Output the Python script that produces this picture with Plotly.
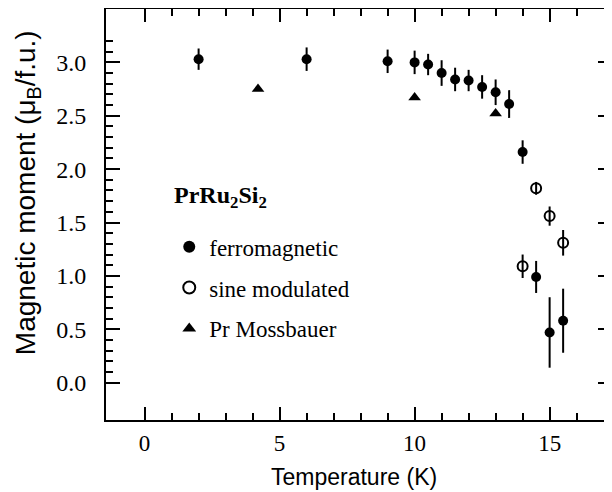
import plotly.graph_objects as go

# ferromagnetic (filled circles)
ferro_T = [2.0, 6.0, 9.0, 10.0, 10.5, 11.0, 11.5, 12.0, 12.5, 13.0, 13.5, 14.0, 14.5, 15.0, 15.5]
ferro_m = [3.03, 3.03, 3.01, 3.00, 2.98, 2.90, 2.84, 2.83, 2.77, 2.72, 2.61, 2.16, 0.99, 0.47, 0.58]
ferro_err = [0.10, 0.11, 0.11, 0.11, 0.10, 0.12, 0.11, 0.10, 0.11, 0.12, 0.13, 0.11, 0.15, 0.33, 0.30]

# sine modulated (open circles)
sine_T = [14.0, 14.5, 15.0, 15.5]
sine_m = [1.09, 1.82, 1.56, 1.31]
sine_err = [0.11, 0.06, 0.09, 0.12]

# Pr Mossbauer (triangles)
moss_T = [4.2, 10.0, 13.0]
moss_m = [2.75, 2.67, 2.52]

x_ticks = [0, 5, 10, 15]
x_minor = [1, 2, 3, 4, 6, 7, 8, 9, 11, 12, 13, 14, 16]
y_ticks = [0.0, 0.5, 1.0, 1.5, 2.0, 2.5, 3.0]
y_ticktext = ["0.0", "0.5", "1.0", "1.5", "2.0", "2.5", "3.0"]
y_minor = [round(0.1 * i, 1) for i in range(0, 33) if i % 5 != 0]

fig = go.Figure()
fig.add_trace(go.Scatter(
    x=ferro_T, y=ferro_m, mode="markers", name="ferromagnetic",
    legendgroup="a",
    marker=dict(symbol="circle", size=10, color="black"),
    error_y=dict(type="data", array=ferro_err, visible=True, thickness=2, width=0, color="black"),
))
fig.add_trace(go.Scatter(
    x=sine_T, y=sine_m, mode="markers", name="sine modulated",
    legendgroup="b",
    marker=dict(symbol="circle-open", size=10, color="black", line=dict(width=2, color="black")),
    error_y=dict(type="data", array=sine_err, visible=True, thickness=2, width=0, color="black"),
))
fig.add_trace(go.Scatter(
    x=moss_T, y=moss_m, mode="markers", name="Pr Mossbauer",
    legendgroup="c",
    marker=dict(symbol="triangle-up", size=11, color="black"),
))

fig.add_annotation(
    x=1.0, y=1.74, xref="x", yref="y", xanchor="left", yanchor="middle",
    text="<b>PrRu<sub>2</sub>Si<sub>2</sub></b>", showarrow=False,
    font=dict(family="Liberation Serif", size=24, color="black"),
)

# axis titles placed as annotations for precise positioning
fig.add_annotation(
    x=0.49, y=-0.139, xref="paper", yref="paper", xanchor="center", yanchor="middle",
    text="Temperature (K)", showarrow=False,
    font=dict(family="Liberation Sans", size=23, color="black"),
)
fig.add_annotation(
    x=-0.156, y=0.552, xref="paper", yref="paper", xanchor="center", yanchor="middle",
    text="Magnetic moment (μ<sub>B</sub>/f.u.)", showarrow=False, textangle=-90,
    font=dict(family="Liberation Sans", size=28, color="black"),
)

axis_common = dict(
    showline=True, linecolor="black", linewidth=2, mirror="ticks",
    ticks="inside", tickwidth=2, tickcolor="black",
    showgrid=False, zeroline=False,
)

fig.update_xaxes(
    range=[-1.43, 17.31], tickvals=x_ticks, ticklen=13,
    minor=dict(tickvals=x_minor, ticks="inside", ticklen=7, tickwidth=2, tickcolor="black", showgrid=False),
    tickfont=dict(family="Liberation Serif", size=23, color="black"),
    ticklabelstandoff=1,
    **axis_common,
)
fig.update_yaxes(
    range=[-0.35, 3.5], tickvals=y_ticks, ticktext=y_ticktext, ticklen=14,
    minor=dict(tickvals=y_minor, ticks="inside", ticklen=7, tickwidth=2, tickcolor="black", showgrid=False),
    tickfont=dict(family="Liberation Serif", size=24, color="black"),
    ticklabelstandoff=13,
    **axis_common,
)

# the page body adds an 8px offset, so the figure is sized to the visible area
fig.update_layout(
    width=604, height=484,
    margin=dict(l=98, r=0, t=1, b=72, autoexpand=False),
    plot_bgcolor="white", paper_bgcolor="white",
    showlegend=True,
    legend=dict(
        x=0.125, y=0.474, xanchor="left", yanchor="top",
        bgcolor="rgba(0,0,0,0)", borderwidth=0,
        font=dict(family="Liberation Serif", size=23, color="black"),
        tracegroupgap=8, itemsizing="constant",
    ),
)

fig.write_html("out.html")
